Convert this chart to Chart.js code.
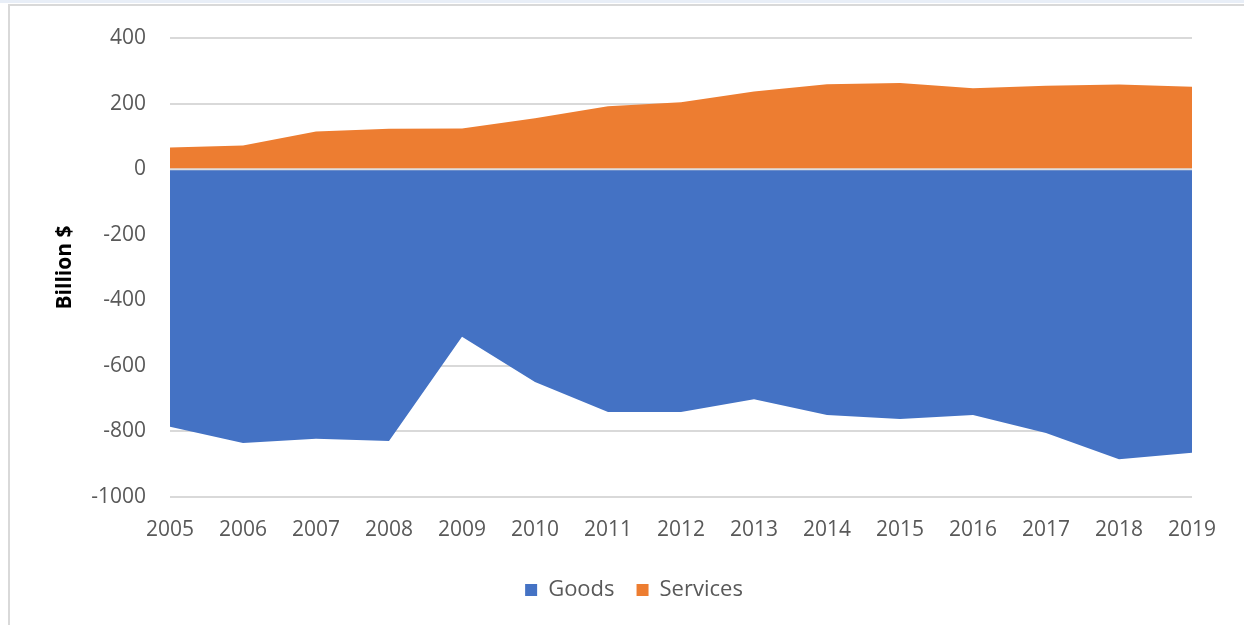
<!DOCTYPE html>
<html>
<head>
<meta charset="utf-8">
<script src="https://cdn.jsdelivr.net/npm/chart.js@4.4.1/dist/chart.umd.min.js"></script>
<style>
  html, body { margin: 0; padding: 0; background: #ffffff; }
  body { width: 1244px; height: 625px; position: relative; overflow: hidden; }
  .band { position: absolute; left: 0; top: 0; width: 1244px; height: 3px; background: #e8eef7; }
  .topline { position: absolute; left: 8px; top: 4px; width: 1236px; height: 2px; background: #d9d9d9; }
  .leftline { position: absolute; left: 8px; top: 4px; width: 2px; height: 621px; background: #d9d9d9; }
  #wrap { position: absolute; left: 0; top: 0; width: 1244px; height: 625px; }
</style>
</head>
<body>
<div class="band"></div>
<div class="topline"></div>
<div class="leftline"></div>
<div id="wrap"><canvas id="chart" width="1244" height="625"></canvas></div>
<script>
// Trade balance by year, billion dollars
const years = ['2005','2006','2007','2008','2009','2010','2011','2012','2013','2014','2015','2016','2017','2018','2019'];
const goods = [-786, -835, -822, -829, -511, -649, -741, -741, -702, -750, -762, -750, -805, -885, -865];
const services = [66, 72, 115, 123, 124, 155, 192, 204, 237, 259, 263, 247, 254, 258, 251];
const yTicks = [400, 200, 0, -200, -400, -600, -800, -1000];

const textColor = '#595959';
const fontFamily = '"Open Sans", "Liberation Sans", sans-serif';

// Light line along zero, drawn over both filled areas
const zeroLine = {
  id: 'zeroLine',
  afterDatasetsDraw(chart) {
    const { ctx, chartArea, scales } = chart;
    const y = scales.y.getPixelForValue(0);
    ctx.save();
    ctx.strokeStyle = '#dedede';
    ctx.lineWidth = 2;
    ctx.beginPath();
    ctx.moveTo(chartArea.left, y);
    ctx.lineTo(chartArea.right, y);
    ctx.stroke();
    ctx.restore();
  }
};

new Chart(document.getElementById('chart'), {
  type: 'line',
  data: {
    labels: years,
    datasets: [
      {
        label: 'Goods',
        data: goods,
        borderColor: '#4472C4',
        backgroundColor: '#4472C4',
        borderWidth: 0,
        pointRadius: 0,
        fill: 'origin',
        tension: 0
      },
      {
        label: 'Services',
        data: services,
        borderColor: '#ED7D31',
        backgroundColor: '#ED7D31',
        borderWidth: 0,
        pointRadius: 0,
        fill: 'origin',
        tension: 0
      }
    ]
  },
  options: {
    responsive: false,
    animation: false,
    layout: { padding: { left: 76, right: 52, top: 38, bottom: 14 } },
    plugins: {
      tooltip: { enabled: false },
      legend: {
        position: 'bottom',
        labels: {
          color: textColor,
          font: { family: fontFamily, size: 22 },
          boxWidth: 12,
          boxHeight: 12,
          padding: 22,
          generateLabels(chart) {
            return chart.data.datasets.map((ds, i) => ({
              text: ds.label,
              fillStyle: ds.backgroundColor,
              strokeStyle: ds.backgroundColor,
              lineWidth: 0,
              hidden: false,
              datasetIndex: i,
              fontColor: textColor
            }));
          }
        }
      }
    },
    scales: {
      x: {
        grid: { display: false, drawTicks: false },
        border: { display: false },
        ticks: {
          color: textColor,
          font: { family: fontFamily, size: 21 },
          padding: 20,
          maxRotation: 0,
          autoSkip: false
        },
        afterFit(scale) { scale.height = 60; }
      },
      y: {
        min: -1000,
        max: 400,
        afterBuildTicks(scale) { scale.ticks = yTicks.map(v => ({ value: v })); },
        grid: { color: '#d9d9d9', lineWidth: 2, drawTicks: false },
        border: { display: false },
        ticks: {
          color: textColor,
          font: { family: fontFamily, size: 21 },
          padding: 24,
          callback: (v) => String(v)
        },
        title: {
          display: true,
          text: 'Billion $',
          color: '#000000',
          font: { family: fontFamily, size: 21, weight: 'bold' },
          padding: { top: -24, bottom: 0 }
        },
        afterFit(scale) { scale.width = 94; }
      }
    }
  },
  plugins: [zeroLine]
});
</script>
</body>
</html>
